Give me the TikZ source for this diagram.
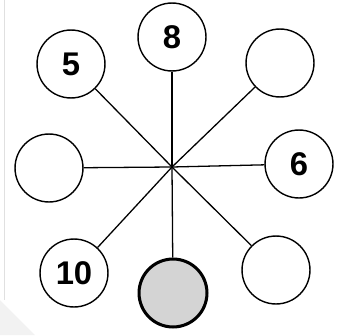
\documentclass[tikz,border=0pt]{standalone}
\usepackage{fontspec}
\setmainfont{Liberation Sans}
\begin{document}
\begin{tikzpicture}[x=0.03cm, y=-0.03cm,
    numnode/.style={circle,draw,line width=1.2pt,fill=white,minimum size=58,inner sep=0pt,font=\fontsize{28}{28}\selectfont\bfseries},
    shadenode/.style={numnode,fill=black!17,line width=2.6pt},
    spoke/.style={line width=1.1pt} ]
    \useasboundingbox (0,0) rectangle (340,335);
    \fill [black!5] (0,300) -- (0,335) -- (35,335) -- cycle;
    \draw [black!12, line width=0.8pt] (4,0) -- (4,300);
    \coordinate (c) at (172,167);
    \node at (172,37) [numnode] (n8) {8};
    \node at (71,64) [numnode] (n5) {5};
    \node at (280,63) [numnode] (ne) {};
    \node at (49,168) [numnode] (w) {};
    \node at (299,164) [numnode] (n6) {6};
    \node at (74,273) [numnode] (n10) {10};
    \node at (173,293) [shadenode] (s) {};
    \node at (276,270) [numnode] (se) {};
    \draw [spoke] (c) to (n8);
    \draw [spoke] (c) to (n5);
    \draw [spoke] (c) to (ne);
    \draw [spoke] (c) to (w);
    \draw [spoke] (c) to (n6);
    \draw [spoke] (c) to (n10);
    \draw [spoke] (c) to (s);
    \draw [spoke] (c) to (se);
\end{tikzpicture}
\end{document}
